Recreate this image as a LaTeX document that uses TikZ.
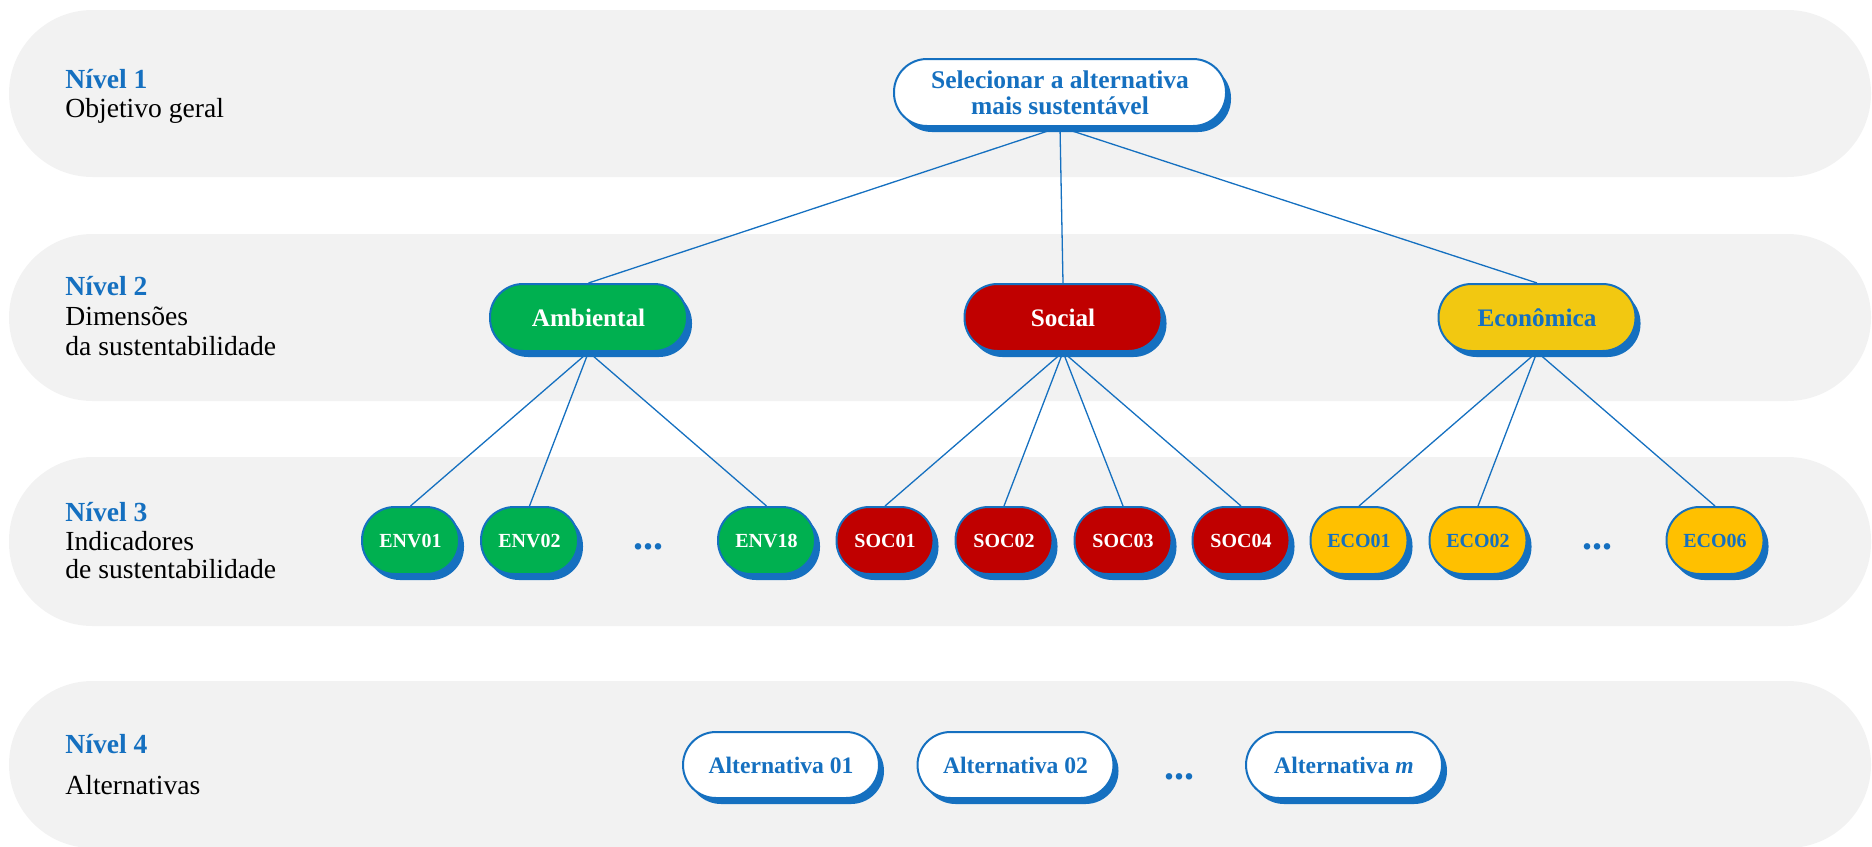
\documentclass[tikz,border=0pt]{standalone}
\usepackage{fontspec}
\setmainfont{Liberation Serif}
\usetikzlibrary{shadows}

\definecolor{hblue}{HTML}{1570C0}
\definecolor{bandgray}{HTML}{F2F2F2}
\definecolor{envgreen}{HTML}{00B050}
\definecolor{socred}{HTML}{C00000}
\definecolor{ecoamber}{HTML}{FFC000}
\definecolor{ecoyellow}{HTML}{F2C811}

\pgfdeclarelayer{bands}
\pgfdeclarelayer{links}
\pgfsetlayers{bands,links,main}

\begin{document}
\begin{tikzpicture}[x=0.5pt,y=-0.5pt,
  pill/.style={draw=hblue, line width=1pt, rounded corners=16.5pt,
    general shadow={fill=hblue, shadow xshift=2.5pt, shadow yshift=-3pt},
    inner sep=0pt, align=center},
  goalbox/.style={pill, fill=white, text=hblue, minimum width=166pt, minimum height=33.5pt,
    font=\fontsize{12.75}{13}\selectfont\bfseries},
  dimbox/.style={pill, minimum width=98.5pt, minimum height=33.5pt,
    font=\fontsize{12.6}{13}\selectfont\bfseries},
  indbox/.style={pill, minimum width=48.5pt, minimum height=33.5pt,
    font=\fontsize{10}{11}\selectfont\bfseries},
  altbox/.style={pill, fill=white, text=hblue, minimum width=98pt, minimum height=33pt,
    font=\fontsize{11.8}{12}\selectfont\bfseries},
  envbox/.style={indbox, fill=envgreen, text=white},
  socbox/.style={indbox, fill=socred, text=white},
  ecobox/.style={indbox, fill=ecoamber, text=hblue},
  moredots/.style={anchor=base, inner sep=0pt, text=hblue, font=\fontsize{20}{20}\selectfont\bfseries},
  lvltitle/.style={anchor=base west, inner sep=0pt, text=hblue, font=\fontsize{13.8}{15}\selectfont\bfseries},
  lvltext/.style={anchor=base west, inner sep=0pt, text=black, font=\fontsize{13.8}{15}\selectfont},
  link/.style={draw=hblue, line width=0.65pt},
  band/.style={fill=bandgray, rounded corners=41.7pt}
]
\useasboundingbox (0,0) rectangle (1872,846);
\clip (0,0) rectangle (1872,846);

% background bands, one per level
\begin{pgfonlayer}{bands}
  \path[band] (9,10) rectangle (1871,177);
  \path[band] (9,234) rectangle (1871,401);
  \path[band] (9,457) rectangle (1871,626);
  \path[band] (9,681) rectangle (1871,848);
\end{pgfonlayer}

% level labels
\node[lvltitle] (t1) at (65,88) {Nível 1};
\node[lvltext] (d1a) at (65,117) {Objetivo geral};
\node[lvltitle] (t2) at (65,295) {Nível 2};
\node[lvltext] (d2a) at (65,325) {Dimensões};
\node[lvltext] (d2b) at (65,355) {da sustentabilidade};
\node[lvltitle] (t3) at (65,521) {Nível 3};
\node[lvltext] (d3a) at (65,550) {Indicadores};
\node[lvltext] (d3b) at (65,578) {de sustentabilidade};
\node[lvltitle] (t4) at (65,753) {Nível 4};
\node[lvltext] (d4a) at (65,794) {Alternativas};

% level 1: goal
\node[goalbox] (goal) at (1060,92.5) {Selecionar a alternativa\\mais sustentável};

% level 2: dimensions
\node[dimbox, fill=envgreen, text=white] (amb) at (588.5,317.5) {Ambiental};
\node[dimbox, fill=socred, text=white] (soc) at (1063,317.5) {Social};
\node[dimbox, fill=ecoyellow, text=hblue] (eco) at (1537,317.5) {Econômica};

% level 3: indicators
\node[envbox] (env01) at (410.5,540.5) {ENV01};
\node[envbox] (env02) at (529.5,540.5) {ENV02};
\node[moredots] (envdots) at (648,549) {...};
\node[envbox] (env18) at (766.5,540.5) {ENV18};
\node[socbox] (soc01) at (885,540.5) {SOC01};
\node[socbox] (soc02) at (1004,540.5) {SOC02};
\node[socbox] (soc03) at (1123,540.5) {SOC03};
\node[socbox] (soc04) at (1241,540.5) {SOC04};
\node[ecobox] (eco01) at (1359,540.5) {ECO01};
\node[ecobox] (eco02) at (1478,540.5) {ECO02};
\node[moredots] (ecodots) at (1597,549) {...};
\node[ecobox] (eco06) at (1715,540.5) {ECO06};

% level 4: alternatives
\node[altbox] (alt01) at (781,765) {Alternativa 01};
\node[altbox] (alt02) at (1015.5,765) {Alternativa 02};
\node[moredots] (altdots) at (1179,779) {...};
\node[altbox] (altm) at (1344,765) {Alternativa \textit{m}};

% hierarchy links
\begin{pgfonlayer}{links}
  \foreach \c in {amb,soc,eco} \draw[link] (goal.south) -- (\c.north);
  \foreach \c in {env01,env02,env18} \draw[link] (amb.south) -- (\c.north);
  \foreach \c in {soc01,soc02,soc03,soc04} \draw[link] (soc.south) -- (\c.north);
  \foreach \c in {eco01,eco02,eco06} \draw[link] (eco.south) -- (\c.north);
\end{pgfonlayer}
\end{tikzpicture}
\end{document}
